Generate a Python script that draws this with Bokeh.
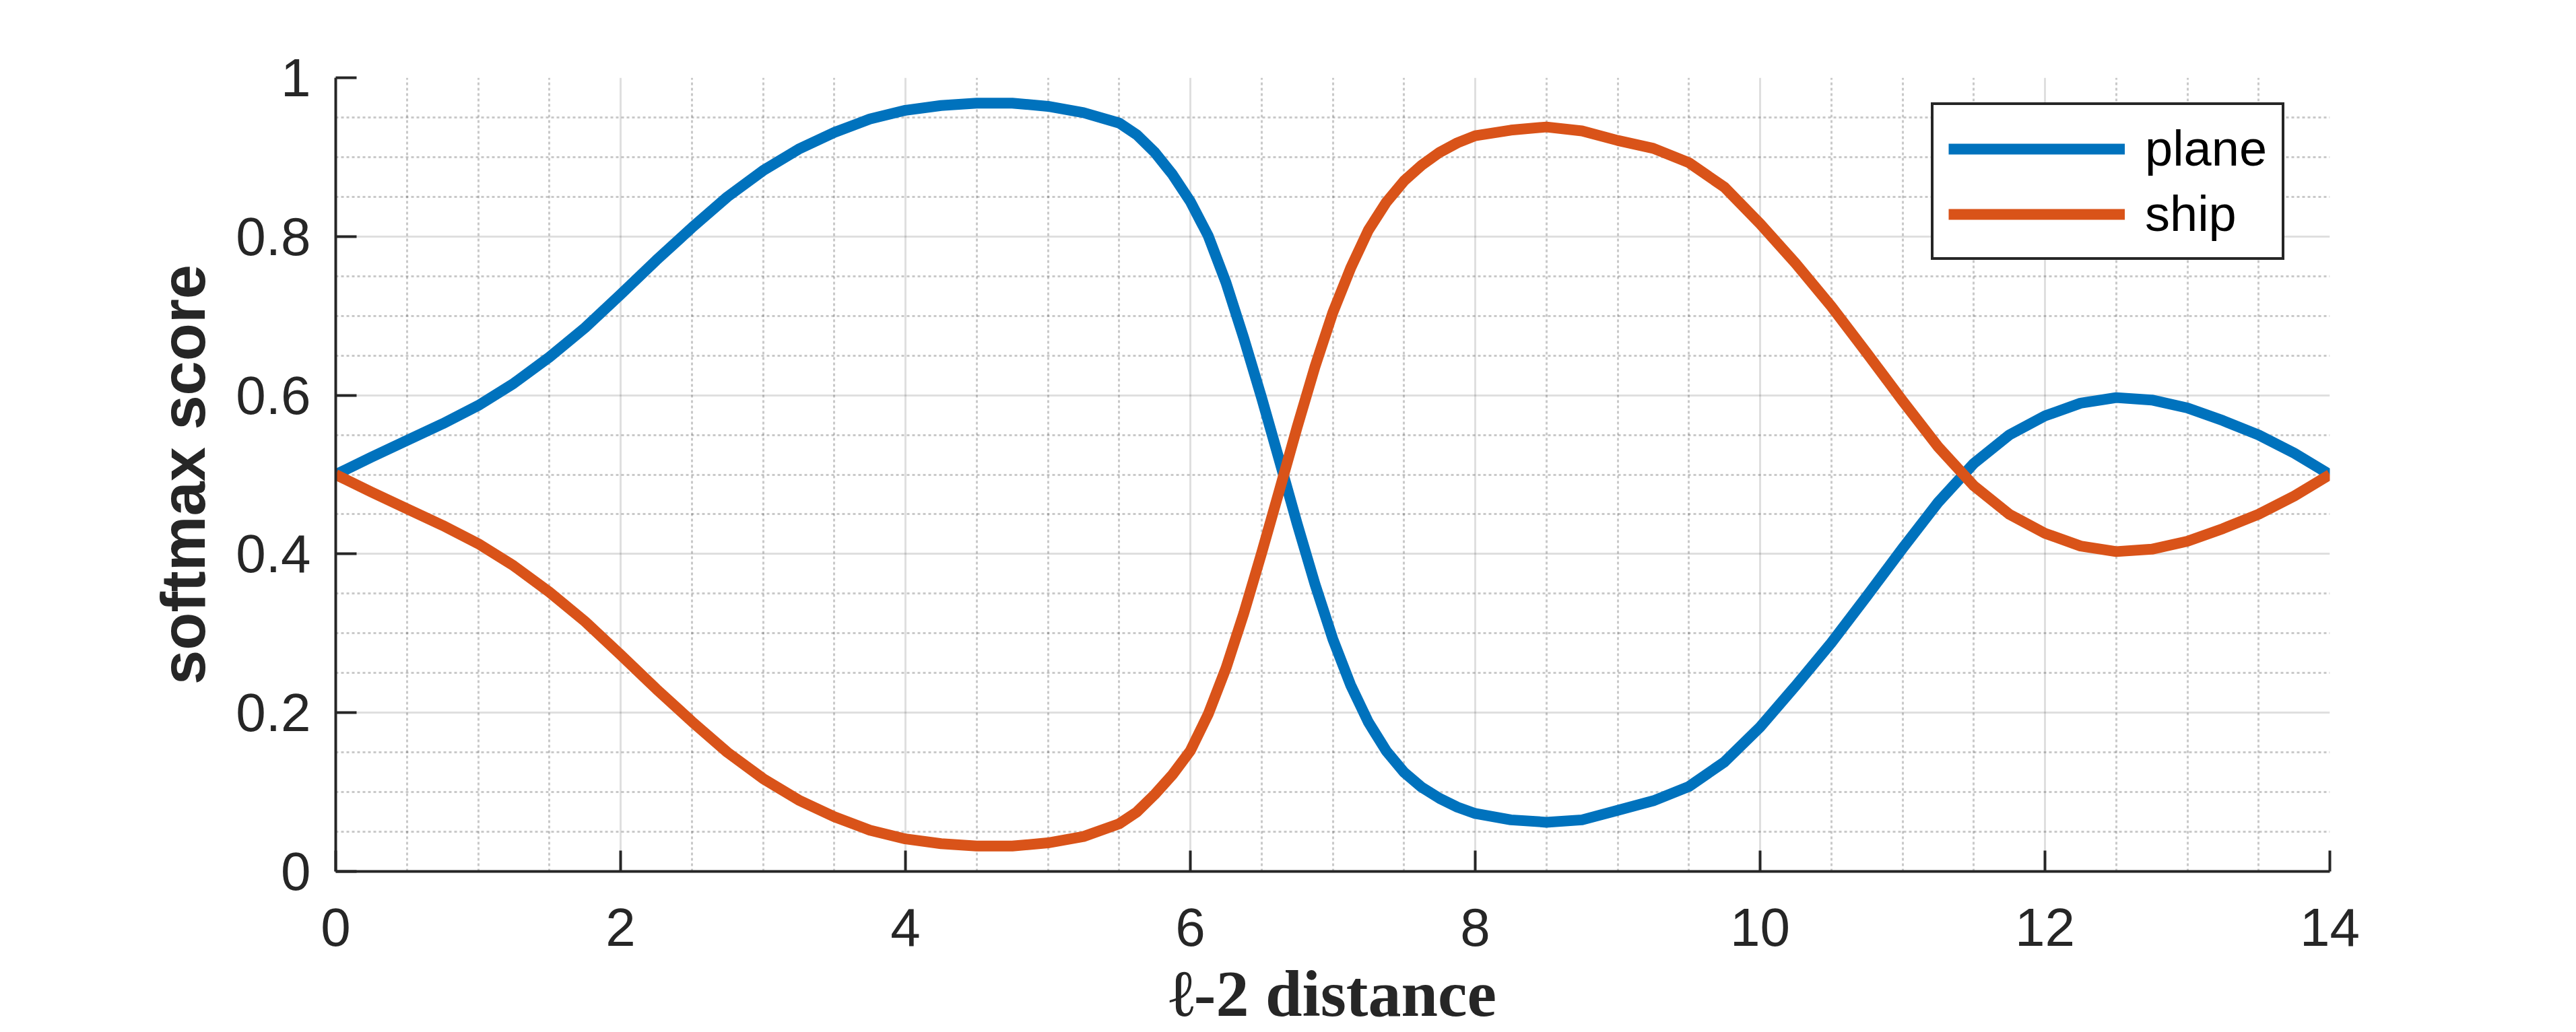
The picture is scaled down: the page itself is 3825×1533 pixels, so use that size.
from bokeh.plotting import figure
from bokeh.models import Range1d, FixedTicker, Legend, LegendItem
from bokeh.embed import file_html
from bokeh.resources import INLINE

# ---- data ----
distance = [0.0, 0.25, 0.5, 0.75, 1.0, 1.25, 1.5, 1.75, 2.0, 2.25, 2.5, 2.75,
            3.0, 3.25, 3.5, 3.75, 4.0, 4.25, 4.5, 4.75, 5.0, 5.25, 5.5,
            5.625, 5.75, 5.875, 6.0, 6.125, 6.25, 6.375, 6.5, 6.625, 6.75,
            6.875, 7.0, 7.125, 7.25, 7.375, 7.5, 7.625, 7.75, 7.875, 8.0,
            8.25, 8.5, 8.75, 9.0, 9.25, 9.5, 9.75, 10.0, 10.25, 10.5, 10.75,
            11.0, 11.25, 11.5, 11.75, 12.0, 12.25, 12.5, 12.75, 13.0, 13.25,
            13.5, 13.75, 14.0]

plane = [0.500, 0.522, 0.543, 0.564, 0.587, 0.615, 0.648, 0.685, 0.727, 0.770,
         0.811, 0.850, 0.883, 0.910, 0.931, 0.948, 0.959, 0.965, 0.968, 0.968,
         0.964, 0.956, 0.943,
         0.928, 0.906, 0.878, 0.844, 0.801, 0.742, 0.672, 0.597, 0.518, 0.438,
         0.362, 0.293, 0.235, 0.188, 0.152, 0.125, 0.106, 0.092, 0.081, 0.073,
         0.065, 0.062, 0.065, 0.077, 0.089, 0.107, 0.138, 0.182, 0.234, 0.288,
         0.347, 0.407, 0.465, 0.514, 0.550, 0.574, 0.590, 0.597, 0.594, 0.584,
         0.568, 0.550, 0.527, 0.500]

ship = [0.500, 0.478, 0.457, 0.436, 0.413, 0.385, 0.352, 0.315, 0.273, 0.230,
        0.189, 0.150, 0.117, 0.090, 0.069, 0.052, 0.041, 0.035, 0.032, 0.032,
        0.036, 0.044, 0.060,
        0.075, 0.097, 0.122, 0.152, 0.198, 0.256, 0.325, 0.401, 0.480, 0.560,
        0.636, 0.704, 0.760, 0.808, 0.843, 0.870, 0.890, 0.906, 0.918, 0.927,
        0.934, 0.938, 0.933, 0.921, 0.911, 0.893, 0.862, 0.816, 0.766, 0.712,
        0.653, 0.593, 0.535, 0.486, 0.450, 0.426, 0.410, 0.403, 0.406, 0.416,
        0.432, 0.450, 0.473, 0.500]

x_ticks = [0, 2, 4, 6, 8, 10, 12, 14]
x_minor_ticks = [0.5, 1, 1.5, 2.5, 3, 3.5, 4.5, 5, 5.5, 6.5, 7, 7.5, 8.5, 9, 9.5,
                 10.5, 11, 11.5, 12.5, 13, 13.5]
y_ticks = [0, 0.2, 0.4, 0.6, 0.8, 1]
y_tick_labels = ["0", "0.2", "0.4", "0.6", "0.8", "1"]
y_minor_ticks = [0.05, 0.1, 0.15, 0.25, 0.3, 0.35, 0.45, 0.5, 0.55, 0.65, 0.7,
                 0.75, 0.85, 0.9, 0.95]

series_names = ["plane", "ship"]
series_colors = ["#0072BD", "#D95319"]

# ---- figure ----
AX = "#262626"
p = figure(width=3825, height=1533, output_backend="svg", toolbar_location=None,
           x_range=Range1d(0, 14), y_range=Range1d(0, 1),
           min_border_left=498, min_border_right=366,
           min_border_top=115, min_border_bottom=239)
p.outline_line_color = None
p.background_fill_color = "white"
p.border_fill_color = "white"

p.xaxis.ticker = FixedTicker(ticks=x_ticks, minor_ticks=x_minor_ticks)
p.yaxis.ticker = FixedTicker(ticks=y_ticks, minor_ticks=y_minor_ticks)
p.yaxis.major_label_overrides = {v: s for v, s in zip(y_ticks, y_tick_labels)}

for ax in (p.xaxis, p.yaxis):
    ax.axis_line_color = AX
    ax.axis_line_width = 4
    ax.major_tick_line_color = AX
    ax.major_tick_line_width = 4
    ax.major_tick_in = 31
    ax.major_tick_out = 0
    ax.minor_tick_in = 0
    ax.minor_tick_out = 0
    ax.major_label_text_font = "Liberation Sans"
    ax.major_label_text_font_size = "80px"
    ax.major_label_text_color = AX
    ax.axis_label_text_color = AX

p.xaxis.major_label_standoff = 55
p.yaxis.major_label_standoff = 37

p.xaxis.axis_label = "ℓ-2 distance"
p.xaxis.axis_label_text_font = "Liberation Serif"
p.xaxis.axis_label_text_font_style = "bold"
p.xaxis.axis_label_text_font_size = "98px"
p.xaxis.axis_label_standoff = 14

p.yaxis.axis_label = "softmax score"
p.yaxis.axis_label_text_font = "Liberation Sans"
p.yaxis.axis_label_text_font_style = "bold"
p.yaxis.axis_label_text_font_size = "92px"
p.yaxis.axis_label_standoff = 24

for g in (p.xgrid, p.ygrid):
    g.grid_line_color = AX
    g.grid_line_alpha = 0.15
    g.grid_line_width = 3
    g.minor_grid_line_color = AX
    g.minor_grid_line_alpha = 0.25
    g.minor_grid_line_width = 3
    g.minor_grid_line_dash = "4 4"

r1 = p.line(distance, plane, line_color=series_colors[0], line_width=16,
            line_join="round")
r2 = p.line(distance, ship, line_color=series_colors[1], line_width=16,
            line_join="round")

legend = Legend(items=[LegendItem(label=series_names[0], renderers=[r1]),
                       LegendItem(label=series_names[1], renderers=[r2])],
                location=(2369, 908))
legend.label_text_font = "Liberation Sans"
legend.label_text_font_size = "74px"
legend.label_text_color = "black"
legend.glyph_width = 262
legend.glyph_height = 40
legend.label_standoff = 30
legend.padding = 22
legend.spacing = 12
legend.margin = 0
legend.border_line_color = AX
legend.border_line_width = 4
legend.border_line_alpha = 1.0
legend.background_fill_color = "white"
legend.background_fill_alpha = 1.0
p.add_layout(legend)

open("out.html", "w").write(file_html(p, INLINE))
